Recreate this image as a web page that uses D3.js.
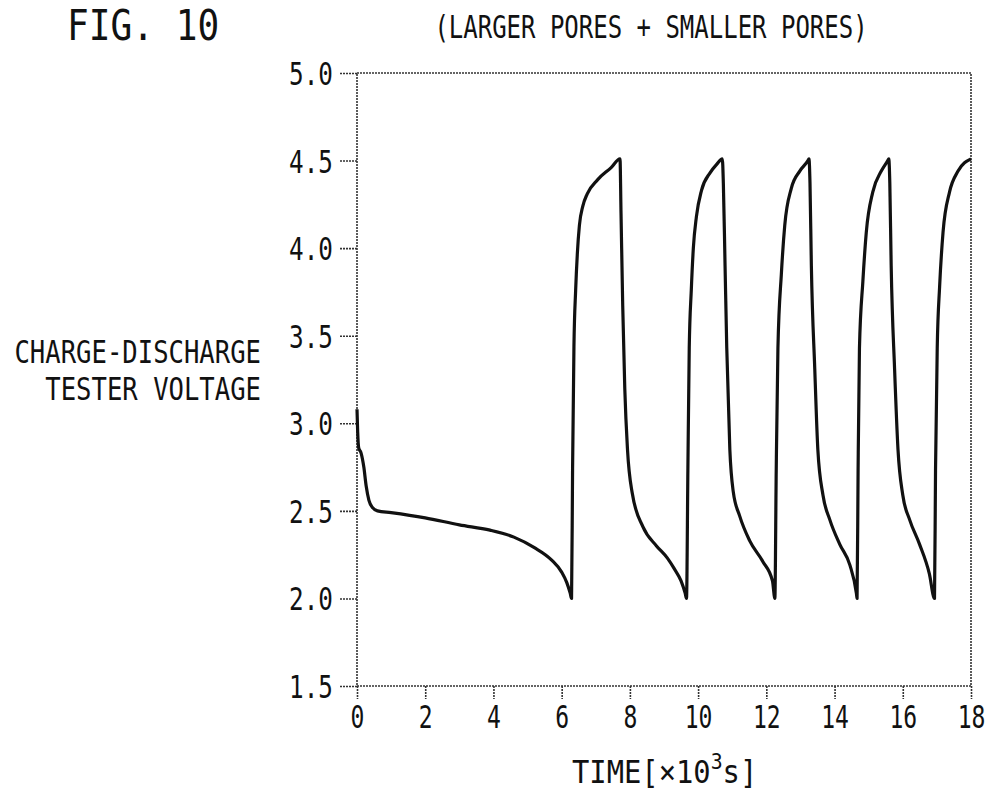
<!DOCTYPE html>
<html>
<head>
<meta charset="utf-8">
<script src="https://cdn.jsdelivr.net/npm/d3@7"></script>
<style>
  body { margin: 0; background: #fff; }
  svg { display: block; }
  text { font-family: "DejaVu Sans Mono", "Liberation Mono", monospace; fill: #111; }
</style>
</head>
<body>
<svg id="chart" width="992" height="790"></svg>
<script>
// values: time in 10^3 s, voltage in V
var timeValues = [
  0.00, 0.02, 0.05, 0.12, 0.20, 0.27, 0.35, 0.45, 0.60, 1.00,
  2.00, 3.00, 3.90, 4.60, 5.20, 5.70, 6.00, 6.15, 6.25, 6.29,
  6.32, 6.36, 6.41, 6.46, 6.52, 6.62, 6.75, 7.05, 7.45, 7.71,
  7.74, 7.79, 7.85, 7.93, 8.07, 8.38, 8.78, 9.10, 9.30, 9.50, 9.62, 9.66,
  9.70, 9.74, 9.80, 9.86, 9.95, 10.10, 10.35, 10.55, 10.71,
  10.74, 10.79, 10.84, 10.93, 11.03, 11.22, 11.51, 11.90, 12.18, 12.25,
  12.29, 12.34, 12.44, 12.54, 12.73, 12.98, 13.22, 13.25,
  13.28, 13.32, 13.42, 13.51, 13.66, 13.86, 14.15, 14.45, 14.64, 14.66,
  14.69, 14.73, 14.83, 14.93, 15.12, 15.37, 15.56, 15.59,
  15.62, 15.66, 15.76, 15.86, 16.00, 16.20, 16.49, 16.78, 16.93,
  16.96, 17.01, 17.08, 17.18, 17.37, 17.62, 18.00
];
var voltageValues = [
  3.08, 2.95, 2.86, 2.83, 2.75, 2.64, 2.56, 2.52, 2.50, 2.49,
  2.46, 2.42, 2.39, 2.35, 2.29, 2.22, 2.15, 2.09, 2.03, 2.00,
  2.74, 3.44, 3.76, 3.97, 4.13, 4.24, 4.31, 4.39, 4.46, 4.51,
  4.20, 3.67, 3.20, 2.85, 2.60, 2.41, 2.30, 2.23, 2.17, 2.10, 2.03, 2.00,
  2.73, 3.43, 3.76, 4.00, 4.18, 4.33, 4.43, 4.48, 4.51,
  4.37, 3.90, 3.43, 2.85, 2.61, 2.47, 2.33, 2.21, 2.10, 2.00,
  2.73, 3.43, 3.85, 4.13, 4.34, 4.44, 4.50, 4.51,
  4.37, 3.90, 3.31, 2.85, 2.59, 2.45, 2.31, 2.19, 2.03, 2.00,
  2.73, 3.43, 3.81, 4.09, 4.32, 4.44, 4.50, 4.51,
  4.37, 3.90, 3.31, 2.85, 2.59, 2.45, 2.31, 2.14, 2.00,
  2.73, 3.43, 3.78, 4.09, 4.32, 4.44, 4.51
];
var xTicks = [0, 2, 4, 6, 8, 10, 12, 14, 16, 18];
var yTicks = [1.5, 2.0, 2.5, 3.0, 3.5, 4.0, 4.5, 5.0];
var yLabelLines = ["CHARGE-DISCHARGE", "TESTER VOLTAGE"];

var svg = d3.select("#chart");

var x = d3.scaleLinear().domain([0, 18]).range([357, 971]);
var y = d3.scaleLinear().domain([1.5, 5.0]).range([686, 73]);

var frameStroke = "#333";

// narrow monospace look of the figure lettering
function squeeze(sel, sx) {
  sel.each(function () {
    var t = d3.select(this);
    var tx = +t.attr("x") || 0;
    t.attr("x", tx / sx).attr("transform", "scale(" + sx + ",1)");
  });
}

// frame
svg.append("rect")
  .attr("x", x(0))
  .attr("y", y(5))
  .attr("width", x(18) - x(0))
  .attr("height", y(1.5) - y(5))
  .attr("fill", "none")
  .attr("stroke", frameStroke)
  .attr("stroke-width", 1.6)
  .attr("stroke-dasharray", "2,1");

// y axis
var yAxis = svg.append("g")
  .attr("transform", "translate(" + x(0) + ",0)")
  .call(d3.axisLeft(y).tickValues(yTicks).tickSize(18).tickPadding(6).tickFormat(d3.format(".1f")));
yAxis.select(".domain").remove();
yAxis.selectAll("line").attr("stroke", frameStroke).attr("stroke-width", 1.6).attr("stroke-dasharray", "2,1");
yAxis.selectAll("text").attr("font-size", 32).attr("font-family", null).attr("dy", "0.36em").call(squeeze, 0.76);

// x axis
var xAxis = svg.append("g")
  .attr("transform", "translate(0," + y(1.5) + ")")
  .call(d3.axisBottom(x).tickValues(xTicks).tickSize(13).tickPadding(6).tickFormat(d3.format("d")));
xAxis.select(".domain").remove();
xAxis.selectAll("line").attr("stroke", frameStroke).attr("stroke-width", 1.6).attr("stroke-dasharray", "2,1");
xAxis.selectAll("text").attr("font-size", 32).attr("font-family", null).attr("dy", "0.72em").call(squeeze, 0.72);

// curve
var points = timeValues.map(function (t, i) { return [t, voltageValues[i]]; });
var line = d3.line()
  .x(function (d) { return x(d[0]); })
  .y(function (d) { return y(d[1]); })
  .curve(d3.curveMonotoneX);

svg.append("path")
  .datum(points)
  .attr("d", line)
  .attr("fill", "none")
  .attr("stroke", "#111")
  .attr("stroke-width", 3.2)
  .attr("stroke-linejoin", "round");

// figure label
svg.append("g").attr("transform", "translate(67,40)")
  .append("text")
  .attr("font-size", 42)
  .text("FIG. 10")
  .call(squeeze, 0.86);

// title
svg.append("g").attr("transform", "translate(651,38)")
  .append("text")
  .attr("font-size", 32)
  .attr("text-anchor", "middle")
  .text("(LARGER PORES + SMALLER PORES)")
  .call(squeeze, 0.75);

// y label, right aligned
yLabelLines.forEach(function (s, i) {
  svg.append("g").attr("transform", "translate(261," + (363 + i * 37) + ")")
    .append("text")
    .attr("font-size", 32)
    .attr("text-anchor", "end")
    .text(s)
    .call(squeeze, 0.8);
});

// x label
var xl = svg.append("g").attr("transform", "translate(572,783)")
  .append("text")
  .attr("font-size", 32);
xl.append("tspan").text("TIME[\u00d710");
xl.append("tspan").attr("font-size", 22).attr("dy", -14).text("3");
xl.append("tspan").attr("dy", 14).text("s]");
xl.call(squeeze, 0.9);
</script>
</body>
</html>
